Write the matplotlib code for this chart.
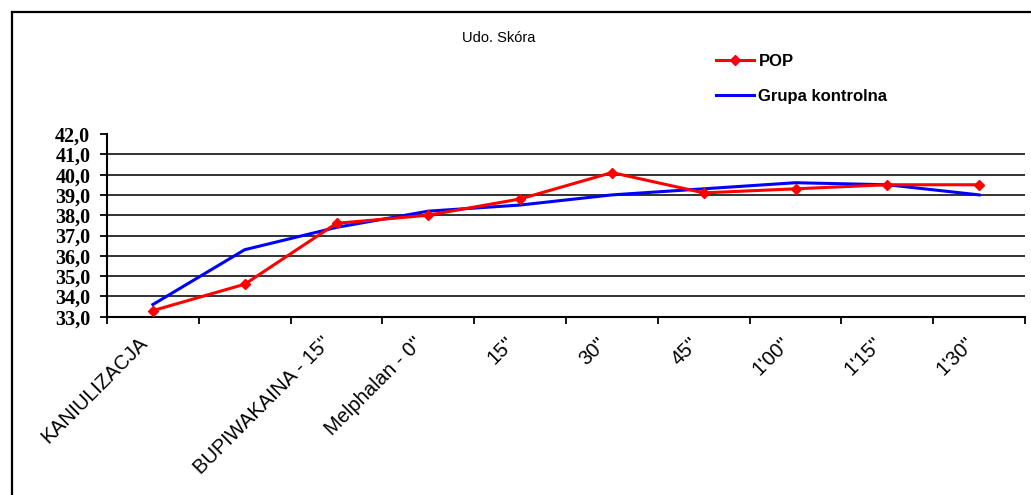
import matplotlib
matplotlib.use('Agg')
import matplotlib.pyplot as plt
import matplotlib.transforms as mtransforms
from matplotlib.lines import Line2D
from matplotlib.ticker import FixedLocator, FuncFormatter

# dane
kategorie = ['KANIULIZACJA', '', "BUPIWAKAINA - 15''", "Melphalan - 0''", "15''", "30''",
             "45''", "1'00''", "1'15''", "1'30''"]
pop = [33.3, 34.6, 37.6, 38.0, 38.8, 40.1, 39.1, 39.3, 39.5, 39.5]
kontrolna = [33.6, 36.3, 37.4, 38.2, 38.5, 39.0, 39.3, 39.6, 39.5, 39.0]
y_ticks = [33.0, 34.0, 35.0, 36.0, 37.0, 38.0, 39.0, 40.0, 41.0, 42.0]

W, H = 1031, 495
fig = plt.figure(figsize=(W / 100, H / 100), dpi=100)
ax = fig.add_axes([107 / W, 1 - 316.7 / H, (1025 - 107) / W, (316.7 - 134) / H])

x = [i + 0.5 for i in range(len(kategorie))]
ax.plot(x, pop, color='#ff0000', lw=2.2, marker='D', markersize=5.5, label='POP', zorder=4)
ax.plot(x, kontrolna, color='#0000ff', lw=2.2, label='Grupa kontrolna', zorder=3)

ax.set_xlim(0, len(kategorie))
ax.set_ylim(y_ticks[0], y_ticks[-1])

# linie siatki (bez linii dla 42,0)
for v in y_ticks[1:-1]:
    ax.axhline(v, color='#222222', lw=1.3, zorder=1)

ax.set_yticks(y_ticks)
ax.yaxis.set_major_formatter(FuncFormatter(lambda v, p: f'{v:.1f}'.replace('.', ',')))
for lab in ax.get_yticklabels():
    lab.set_fontfamily('Liberation Serif')
    lab.set_fontweight('bold')
    lab.set_fontsize(14.5)
ax.tick_params(axis='y', direction='out', length=5, width=1.3, pad=7)

ax.xaxis.set_major_locator(FixedLocator(x))
ax.set_xticklabels(kategorie, rotation=45, ha='right', va='center', rotation_mode='anchor',
                   fontfamily='Liberation Sans', fontsize=14.5)
ax.xaxis.set_minor_locator(FixedLocator(list(range(len(kategorie) + 1))))
ax.tick_params(axis='x', which='major', length=0, pad=17)
ax.tick_params(axis='x', which='minor', direction='out', length=5, width=1.3)
offset = mtransforms.ScaledTranslation(-8 / 100, 0, fig.dpi_scale_trans)
for lab in ax.get_xticklabels():
    lab.set_transform(lab.get_transform() + offset)

for s in ['top', 'right']:
    ax.spines[s].set_visible(False)
for s in ['left', 'bottom']:
    ax.spines[s].set_linewidth(1.5)
    ax.spines[s].set_color('black')

fig.text(499 / W, 1 - 38 / H, 'Udo. Skóra', ha='center', va='center',
         fontfamily='Liberation Sans', fontsize=10.5)

leg = ax.legend(loc='upper left', bbox_to_anchor=(701 / W, 1 - 39 / H),
                bbox_transform=fig.transFigure, frameon=False,
                prop={'family': 'Liberation Sans', 'weight': 'bold', 'size': 12},
                handlelength=2.3, handletextpad=0.25, labelspacing=1.2)

# ramka wykresu (góra i lewa krawędź)
fig.add_artist(Line2D([12 / W, 1], [1 - 12 / H, 1 - 12 / H], transform=fig.transFigure,
                      color='black', lw=1.6))
fig.add_artist(Line2D([12 / W, 12 / W], [0, 1 - 12 / H], transform=fig.transFigure,
                      color='black', lw=1.6))

fig.savefig('out.png', dpi=100)
